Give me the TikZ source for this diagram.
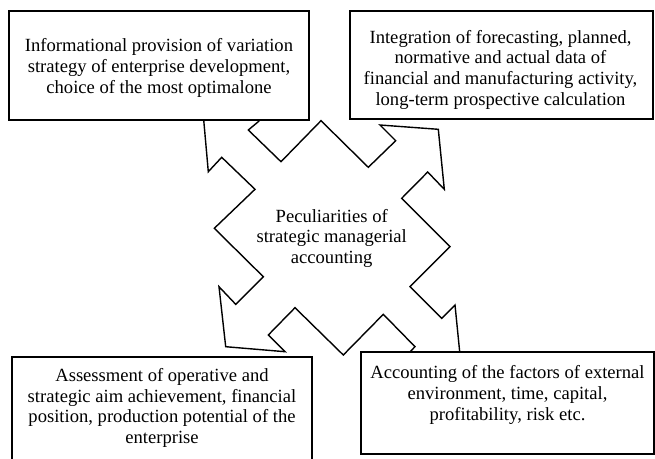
\documentclass[tikz,border=0pt]{standalone}
\usepackage{fontspec}
\setmainfont{Liberation Serif}
\begin{document}
\begin{tikzpicture}[x=1pt,y=-1pt,
  box/.style={draw=black, line width=1.4pt, fill=white, rectangle, inner sep=0pt},
  txt/.style={align=center, inner sep=0pt, font=\fontsize{18.6}{20.7}\selectfont},
  quad/.style={draw=black, line width=1.4pt, fill=white, line join=miter}]
\useasboundingbox (0,0) rectangle (655,458);
\clip (0,0) rectangle (655,458);
\fill[white] (0,0) rectangle (655,458);

% central four-way arrow shape
\draw[quad] (321,120.7) -- (368.3,167.3) -- (395.7,140.7) -- (380,125)
  -- (438.3,129.3) -- (444.3,189.3) -- (427.7,172) -- (401.7,198.3)
  -- (450,246.7) -- (410,286.7) -- (441.7,318.3) -- (455,305)
  -- (461,365) -- (402,360) -- (415,346.7) -- (383.3,314.3)
  -- (343.3,355) -- (295,307.7) -- (268.3,335) -- (285,351.7)
  -- (225.7,346.7) -- (219,286.7) -- (235.7,304.3) -- (263.3,276.7)
  -- (214.3,228.3) -- (255,189.3) -- (221.7,157.3) -- (208.3,171.7)
  -- (203,112) -- (263,116) -- (258.3,121.7) -- (248.3,130)
  -- (281,161.7) -- cycle;
\node[txt] (center) at (331.7,238.3) {Peculiarities of\\strategic managerial\\accounting};

% boxes
\node[box, minimum width=300pt, minimum height=109pt] (tl) at (159,65.5) {};
\node[box, minimum width=303pt, minimum height=108pt] (tr) at (501.5,65) {};
\node[box, minimum width=300pt, minimum height=106pt] (bl) at (162,410) {};
\node[box, minimum width=293pt, minimum height=102pt] (br) at (507.5,403) {};

\node[txt] (tltext) at (159,67.8) {Informational provision of variation\\strategy of enterprise development,\\choice of the most optimalone};
\node[txt] (trtext) at (500.5,69.6) {Integration of forecasting, planned,\\normative and actual data of\\financial and manufacturing activity,\\long-term prospective calculation};
\node[txt] (bltext) at (162,407.9) {Assessment of operative and\\strategic aim achievement, financial\\position, production potential of the\\enterprise};
\node[txt] (brtext) at (507.5,395) {Accounting of the factors of external\\environment, time, capital,\\profitability, risk etc.};
\end{tikzpicture}
\end{document}
